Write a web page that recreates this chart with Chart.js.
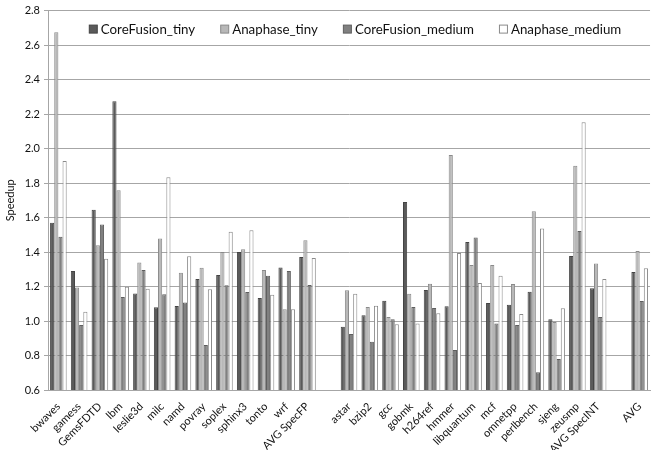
<!DOCTYPE html>
<html>
<head>
<meta charset="utf-8">
<script src="https://cdn.jsdelivr.net/npm/chart.js@4/dist/chart.umd.min.js"></script>
<style>
  body { margin: 0; background: #fff; }
</style>
</head>
<body>
<canvas id="speedup-chart" width="651" height="450"></canvas>
<script>
// benchmarks, with empty slots as spacers between the FP / INT / AVG groups
const benchmarks = [
  'bwaves', 'gamess', 'GemsFDTD', 'lbm', 'leslie3d', 'milc', 'namd', 'povray', 'soplex', 'sphinx3', 'tonto', 'wrf', 'AVG SpecFP',
  '',
  'astar', 'bzip2', 'gcc', 'gobmk', 'h264ref', 'hmmer', 'libquantum', 'mcf', 'omnetpp', 'perlbench', 'sjeng', 'zeusmp', 'AVG SpecINT',
  '',
  'AVG'
]

const coreFusionTiny = [
  1.57, 1.29, 1.645, 2.275, 1.16, 1.08, 1.087, 1.243, 1.267, 1.40, 1.133, 1.311, 1.371,
  null,
  0.967, 1.033, 1.118, 1.69, 1.18, 1.085, 1.458, 1.104, 1.094, 1.17, 1.01, 1.377, 1.19,
  null,
  1.284
]
const anaphaseTiny = [
  2.674, 1.195, 1.439, 1.758, 1.34, 1.479, 1.28, 1.309, 1.40, 1.416, 1.296, 1.068, 1.468,
  null,
  1.178, 1.081, 1.023, 1.158, 1.216, 1.962, 1.325, 1.325, 1.214, 1.636, 0.994, 1.901, 1.334,
  null,
  1.406
]
const coreFusionMedium = [
  1.489, 0.977, 1.56, 1.139, 1.296, 1.155, 1.108, 0.861, 1.207, 1.168, 1.263, 1.29, 1.209,
  null,
  0.925, 0.88, 1.01, 1.081, 1.075, 0.832, 1.485, 0.985, 0.977, 0.703, 0.78, 1.522, 1.023,
  null,
  1.116
]
const anaphaseMedium = [
  1.928, 1.054, 1.361, 1.199, 1.187, 1.833, 1.375, 1.184, 1.518, 1.526, 1.153, 1.068, 1.365,
  null,
  1.158, 1.089, 0.981, 0.985, 1.045, 1.394, 1.22, 1.263, 1.041, 1.537, 1.074, 2.152, 1.243,
  null,
  1.306
]

const FONT = 'Lato, "Liberation Sans", sans-serif'
const GRID = '#a6a6a6'

// legend drawn inside the plot, centred near the top like the original
const insideLegend = {
  id: 'insideLegend',
  afterDraw(chart) {
    const ctx = chart.ctx
    const area = chart.chartArea
    ctx.save()
    ctx.font = '13.3px ' + FONT
    ctx.textBaseline = 'middle'
    const box = 8, pad = 4, gap = 25
    const items = chart.data.datasets.map(ds => ({
      label: ds.label, fill: ds.backgroundColor, stroke: ds.borderColor,
      w: ctx.measureText(ds.label).width
    }))
    const total = items.reduce((s, it) => s + box + pad + it.w, 0) + gap * (items.length - 1)
    let x = (area.left + area.right) / 2 - total / 2 + 6
    const y = area.top + 18
    items.forEach(it => {
      ctx.fillStyle = it.fill
      ctx.strokeStyle = it.stroke
      ctx.lineWidth = 1
      ctx.fillRect(x + 0.5, y - box / 2 + 0.5, box, box)
      ctx.strokeRect(x + 0.5, y - box / 2 + 0.5, box, box)
      ctx.fillStyle = '#111'
      ctx.fillText(it.label, x + box + pad, y + 1)
      x += box + pad + it.w + gap
    })
    ctx.restore()
  }
}

new Chart(document.querySelector('#speedup-chart'), {
  type: 'bar',
  data: {
    labels: benchmarks,
    datasets: [
      { label: 'CoreFusion_tiny', data: coreFusionTiny, backgroundColor: '#5a5a5a', borderColor: '#444444' },
      { label: 'Anaphase_tiny', data: anaphaseTiny, backgroundColor: '#b8b8b8', borderColor: '#8a8a8a' },
      { label: 'CoreFusion_medium', data: coreFusionMedium, backgroundColor: '#808080', borderColor: '#5e5e5e' },
      { label: 'Anaphase_medium', data: anaphaseMedium, backgroundColor: '#ffffff', borderColor: '#8a8a8a' }
    ]
  },
  options: {
    responsive: false,
    animation: false,
    datasets: {
      bar: { borderWidth: 1, categoryPercentage: 0.8, barPercentage: 1 }
    },
    layout: { padding: { top: 4, right: 0, left: 0, bottom: 0 } },
    plugins: {
      legend: { display: false },
      tooltip: { enabled: false }
    },
    scales: {
      x: {
        grid: { display: false },
        border: { display: true, color: GRID },
        ticks: {
          autoSkip: false, maxRotation: 45, minRotation: 45,
          color: '#111', font: { family: FONT, size: 11 }, padding: 2
        },
        afterFit: scale => { scale.height = 60 }
      },
      y: {
        min: 0.6, max: 2.8,
        ticks: { stepSize: 0.2, color: '#111', font: { family: FONT, size: 11 }, padding: 4 },
        grid: { color: GRID, tickLength: 4 },
        border: { display: true, color: GRID },
        title: { display: true, text: 'Speedup', color: '#111', font: { family: FONT, size: 11 }, padding: 4 },
        afterFit: scale => { scale.width = 48 }
      }
    }
  },
  plugins: [insideLegend]
})
</script>
</body>
</html>
